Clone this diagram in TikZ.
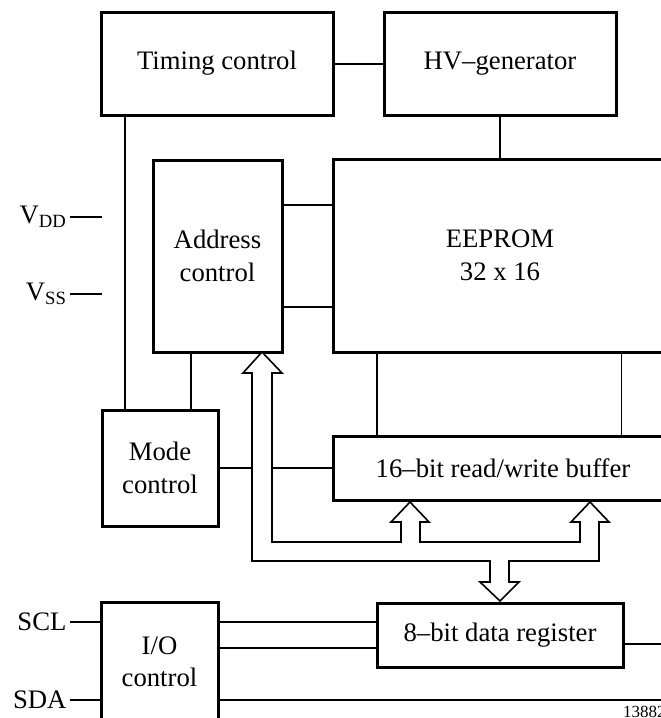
\documentclass[tikz,border=0pt]{standalone}
\usepackage{fontspec}
\setmainfont{Liberation Serif}
\usetikzlibrary{calc}

\begin{document}
\begin{tikzpicture}[x=1pt, y=-1pt,
    font=\fontsize{26.7}{32.5}\selectfont,
    blk/.style={draw, line width=3pt, align=center, inner sep=0pt},
    con/.style={line width=2pt},
    fine/.style={line width=1.1pt},
    bus/.style={draw, fill=white, line width=1.6pt, line join=miter}]

    \useasboundingbox (0,0) rectangle (661,718);

    % 1. Bloecke
    \node[blk, minimum width=232pt, minimum height=103pt] (T) at (217,63.5) {Timing control};
    \node[blk, minimum width=232pt, minimum height=103pt] (HV) at (500,63.5) {HV--generator};
    \node[blk, minimum width=334pt, minimum height=193pt] (E) at (500,255.5) {EEPROM\\32 x 16};
    \node[blk, minimum width=129pt, minimum height=192pt] (AC) at (217.5,256) {Address\\control};
    \node[blk, minimum width=116pt, minimum height=116pt] (MC) at (160,468) {Mode\\control};
    \node[blk, minimum width=340pt, minimum height=64pt] (BUF) at (503,468) {16--bit read/write buffer};
    \node[blk, minimum width=246pt, minimum height=64pt] (DR) at (500,635) {8--bit data register};
    \node[blk, minimum width=117pt, minimum height=120pt] (IO) at (159.5,662) {I/O\\control};

    % 2. Verbindungen zwischen den Bloecken
    \draw[con] (T.east) -- (HV.west);
    \draw[fine] (HV.south) -- (E.north);
    \draw[con] ($(T.south west)+(25.5,0)$) coordinate (t1) -- (t1 |- MC.north);
    \draw[con] ($(AC.south west)+(39,0)$) coordinate (a1) -- (a1 |- MC.north);
    \draw[con] (AC.east |- 0,205) -- (E.west |- 0,205);
    \draw[con] (AC.east |- 0,307) -- (E.west |- 0,307);
    \draw[con] ($(E.south west)+(45,0)$) coordinate (e1) -- (e1 |- BUF.north);
    \draw[fine] ($(E.south west)+(290,0)$) coordinate (e2) -- (e2 |- BUF.north);
    \draw[fine] (MC.east) -- (BUF.west);
    \draw[con] (IO.east |- 0,622) -- (DR.west |- 0,622);
    \draw[con] (IO.east |- 0,648) -- (DR.west |- 0,648);
    \draw[con] (DR.east |- 0,644) -- ++(50,0);

    % 3. Anschluesse
    \coordinate (vdd) at (70,217);
    \coordinate (vss) at (70,294);
    \coordinate (scl) at (70,622);
    \coordinate (sda) at (70,700);
    \draw[con] (vdd) -- ++(32,0);
    \draw[fine] (vss) -- ++(32,0);
    \draw[con] (scl) -- (scl -| IO.west);
    \draw[con] (sda) -- (sda -| IO.west);
    \draw[con] (IO.east |- sda) -- ++(460,0);
    \node[left] at (vdd) {V\textsubscript{DD}};
    \node[left] at (vss) {V\textsubscript{SS}};
    \node[left] at (scl) {SCL};
    \node[left] at (sda) {SDA};

    % 4. Datenbus (Hohlpfeile)
    \draw[bus] (262,352) -- (282,373) -- (272,373) -- (272,542) -- (401,542)
        -- (401,522) -- (391,522) -- (410,502) -- (429,522) -- (420,522)
        -- (420,542) -- (580,542) -- (580,522) -- (571,522) -- (590,502)
        -- (609,522) -- (599,522) -- (599,561) -- (509,561) -- (509,582)
        -- (519,582) -- (500,601) -- (480,582) -- (490,582) -- (490,561)
        -- (252,561) -- (252,373) -- (243,373) -- cycle;

    % Kennung
    \node[anchor=base west, inner sep=0pt, font=\fontsize{17}{20}\selectfont] (id) at (623,717) {13882};

\end{tikzpicture}
\end{document}
